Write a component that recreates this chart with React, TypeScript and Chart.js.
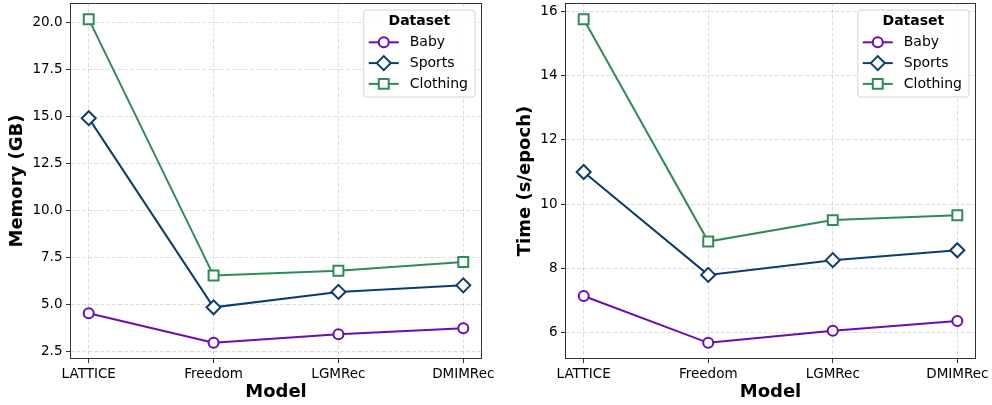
import React, { useEffect, useRef } from 'react';
import { Chart, registerables } from 'chart.js';

Chart.register(...registerables);

const models = ['LATTICE', 'Freedom', 'LGMRec', 'DMIMRec'];
const datasetNames = ['Baby', 'Sports', 'Clothing'];
const seriesColors = ['#6a0dad', '#0b3c6e', '#2e8b57'];
const seriesMarkers = ['circle', 'rectRot', 'rect'];
const markerRadius = [5, 7, 7];

const memoryBaby = [4.54, 2.97, 3.42, 3.75];
const memorySports = [14.93, 4.86, 5.68, 6.03];
const memoryClothing = [20.2, 6.55, 6.81, 7.27];
const memoryTicks = [2.5, 5.0, 7.5, 10.0, 12.5, 15.0, 17.5, 20.0];

const timeBaby = [7.13, 5.67, 6.05, 6.35];
const timeSports = [11.0, 7.79, 8.25, 8.56];
const timeClothing = [15.77, 8.83, 9.5, 9.65];
const timeTicks = [6, 8, 10, 12, 14, 16];

const FONT = '"DejaVu Sans", sans-serif';
const TEXT = '#000000';
const FRAME = '#333333';

function drawMarker(ctx: CanvasRenderingContext2D, style: string, x: number, y: number, r: number) {
  ctx.beginPath();
  if (style === 'circle') {
    ctx.arc(x, y, r, 0, Math.PI * 2);
  } else if (style === 'rectRot') {
    ctx.moveTo(x - r, y);
    ctx.lineTo(x, y - r);
    ctx.lineTo(x + r, y);
    ctx.lineTo(x, y + r);
    ctx.closePath();
  } else {
    const s = r * Math.SQRT1_2;
    ctx.rect(x - s, y - s, 2 * s, 2 * s);
  }
  ctx.fill();
  ctx.stroke();
}

const framePlugin = {
  id: 'mplFrame',
  afterDatasetsDraw(chart: any) {
    const { ctx, chartArea: a } = chart;
    ctx.save();
    ctx.strokeStyle = FRAME;
    ctx.lineWidth = 1;
    ctx.strokeRect(Math.round(a.left) + 0.5, Math.round(a.top) + 0.5, Math.round(a.right - a.left) - 1, Math.round(a.bottom - a.top) - 1);
    ctx.restore();
  },
};

const legendPlugin = {
  id: 'mplLegend',
  afterDraw(chart: any) {
    const { ctx, chartArea: a } = chart;
    ctx.save();
    ctx.font = `14px ${FONT}`;
    const widths = datasetNames.map((n) => ctx.measureText(n).width);
    const W = 46 + Math.max(...widths) + 7;
    const H = 87;
    const x0 = a.right - 7 - W;
    const y0 = a.top + 7;
    const rr = 3;
    ctx.beginPath();
    ctx.moveTo(x0 + rr, y0);
    ctx.lineTo(x0 + W - rr, y0);
    ctx.quadraticCurveTo(x0 + W, y0, x0 + W, y0 + rr);
    ctx.lineTo(x0 + W, y0 + H - rr);
    ctx.quadraticCurveTo(x0 + W, y0 + H, x0 + W - rr, y0 + H);
    ctx.lineTo(x0 + rr, y0 + H);
    ctx.quadraticCurveTo(x0, y0 + H, x0, y0 + H - rr);
    ctx.lineTo(x0, y0 + rr);
    ctx.quadraticCurveTo(x0, y0, x0 + rr, y0);
    ctx.closePath();
    ctx.fillStyle = 'rgba(255,255,255,0.85)';
    ctx.fill();
    ctx.strokeStyle = '#d4d4d4';
    ctx.lineWidth = 1;
    ctx.stroke();

    ctx.fillStyle = TEXT;
    ctx.textBaseline = 'middle';
    ctx.textAlign = 'center';
    ctx.font = `bold 14px ${FONT}`;
    ctx.fillText('Dataset', x0 + W / 2, y0 + 11.5);

    ctx.font = `14px ${FONT}`;
    ctx.textAlign = 'left';
    datasetNames.forEach((name, i) => {
      const y = y0 + 32.3 + i * 20.8;
      ctx.strokeStyle = seriesColors[i];
      ctx.lineWidth = 2;
      ctx.beginPath();
      ctx.moveTo(x0 + 5, y);
      ctx.lineTo(x0 + 35, y);
      ctx.stroke();
      ctx.fillStyle = '#ffffff';
      ctx.lineWidth = 2;
      drawMarker(ctx, seriesMarkers[i], x0 + 20, y, markerRadius[i]);
      ctx.fillStyle = TEXT;
      ctx.fillText(name, x0 + 46, y + 0.5);
    });
    ctx.restore();
  },
};

function buildConfig(
  series: number[][],
  yTicks: number[],
  yTitle: string,
  yWidth: number,
  rightPad: number,
  yTitlePad: number,
  decimals: number
): any {
  const all = series.flat();
  const lo = Math.min(...all);
  const hi = Math.max(...all);
  const span = hi - lo;
  const datasets = series.map((vals, i) => ({
    label: datasetNames[i],
    data: vals.map((v, j) => ({ x: j, y: v })),
    borderColor: seriesColors[i],
    backgroundColor: '#ffffff',
    borderWidth: 2,
    pointStyle: seriesMarkers[i],
    pointRadius: markerRadius[i],
    pointBorderWidth: 2,
    pointBackgroundColor: '#ffffff',
    pointBorderColor: seriesColors[i],
    tension: 0,
    order: 3 - i,
  }));
  const gridOpts = {
    color: 'rgba(0,0,0,0.16)',
    lineWidth: 0.8,
    tickLength: 4,
    tickColor: FRAME,
    tickWidth: 1,
    tickBorderDash: [],
  };
  return {
    type: 'line',
    data: { datasets },
    options: {
      responsive: false,
      animation: false,
      events: [],
      layout: { autoPadding: false, padding: { left: 0, top: 3, right: rightPad, bottom: 0 } },
      plugins: { legend: { display: false }, tooltip: { enabled: false } },
      scales: {
        x: {
          type: 'linear',
          min: -0.15,
          max: models.length - 1 + 0.15,
          afterBuildTicks: (s: any) => {
            s.ticks = models.map((_, i) => ({ value: i }));
          },
          afterFit: (s: any) => {
            s.height = 46;
            s.paddingLeft = 0;
            s.paddingRight = 0;
          },
          ticks: {
            autoSkip: false,
            maxRotation: 0,
            padding: 3,
            color: TEXT,
            font: { family: FONT, size: 13.5 },
            callback: (v: any) => models[Math.round(v)] ?? '',
          },
          grid: gridOpts,
          border: { display: false, dash: [4, 2] },
          title: {
            display: true,
            text: 'Model',
            color: TEXT,
            font: { family: FONT, size: 18, weight: 'bold' },
            padding: { top: 0, bottom: 1.5 },
          },
        },
        y: {
          type: 'linear',
          min: lo - 0.05 * span,
          max: hi + 0.05 * span,
          afterBuildTicks: (s: any) => {
            s.ticks = yTicks.map((v) => ({ value: v }));
          },
          afterFit: (s: any) => {
            s.width = yWidth;
            s.paddingTop = 0;
            s.paddingBottom = 0;
          },
          ticks: {
            padding: 3.5,
            color: TEXT,
            font: { family: FONT, size: 13.5 },
            callback: (v: any) => Number(v).toFixed(decimals),
          },
          grid: gridOpts,
          border: { display: false, dash: [4, 2] },
          title: {
            display: true,
            text: yTitle,
            color: TEXT,
            font: { family: FONT, size: 18, weight: 'bold' },
            padding: { top: yTitlePad, bottom: 0 },
          },
        },
      },
    },
    plugins: [framePlugin, legendPlugin],
  };
}

function ChartCanvas({ config, left, width }: { config: any; left: number; width: number }) {
  const ref = useRef<HTMLCanvasElement | null>(null);
  useEffect(() => {
    if (!ref.current) return;
    const chart = new Chart(ref.current, config);
    return () => chart.destroy();
  }, [config]);
  return (
    <canvas
      ref={ref}
      width={width}
      height={405}
      style={{ position: 'absolute', left, top: 0, width, height: 405, display: 'block' }}
    />
  );
}

const memoryConfig = buildConfig([memoryBaby, memorySports, memoryClothing], memoryTicks, 'Memory (GB)', 70, 14, 6.4, 1);
const timeConfig = buildConfig([timeBaby, timeSports, timeClothing], timeTicks, 'Time (s/epoch)', 69, 16, 18.5, 0);

export default function App() {
  return (
    <div style={{ position: 'absolute', left: 0, top: 0, width: 992, height: 405, background: '#ffffff' }}>
      <ChartCanvas config={memoryConfig} left={0} width={496} />
      <ChartCanvas config={timeConfig} left={496} width={496} />
    </div>
  );
}
